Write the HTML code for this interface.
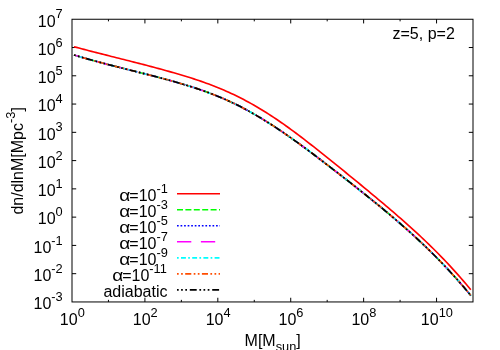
<!DOCTYPE html>
<html><head><meta charset="utf-8"><title>plot</title>
<style>html,body{margin:0;padding:0;background:#fff;}svg{display:block;will-change:transform;}text{font-family:"Liberation Sans",sans-serif;fill:#000;}</style></head><body>
<svg width="500" height="350" viewBox="0 0 500 350">
<rect width="500" height="350" fill="#fff"/>
<path d="M108.45,301.95 v-2.1 M108.45,19.25 v2.1 M144.91,301.95 v-4.2 M144.91,19.25 v4.2 M181.36,301.95 v-2.1 M181.36,19.25 v2.1 M217.82,301.95 v-4.2 M217.82,19.25 v4.2 M254.27,301.95 v-2.1 M254.27,19.25 v2.1 M290.73,301.95 v-4.2 M290.73,19.25 v4.2 M327.18,301.95 v-2.1 M327.18,19.25 v2.1 M363.64,301.95 v-4.2 M363.64,19.25 v4.2 M400.09,301.95 v-2.1 M400.09,19.25 v2.1 M436.55,301.95 v-4.2 M436.55,19.25 v4.2 M72.0,273.68 h4.2 M473.0,273.68 h-4.2 M72.0,245.41 h4.2 M473.0,245.41 h-4.2 M72.0,217.14 h4.2 M473.0,217.14 h-4.2 M72.0,188.87 h4.2 M473.0,188.87 h-4.2 M72.0,160.60 h4.2 M473.0,160.60 h-4.2 M72.0,132.33 h4.2 M473.0,132.33 h-4.2 M72.0,104.06 h4.2 M473.0,104.06 h-4.2 M72.0,75.79 h4.2 M473.0,75.79 h-4.2 M72.0,47.52 h4.2 M473.0,47.52 h-4.2" stroke="#000" stroke-width="1" fill="none"/>
<rect x="72.0" y="19.25" width="401.0" height="282.7" fill="none" stroke="#000" stroke-width="1"/>
<text x="62.70" y="309.30" text-anchor="end" font-size="16.0">10<tspan font-size="12.8" dy="-8.2">-3</tspan></text>
<text x="62.70" y="281.03" text-anchor="end" font-size="16.0">10<tspan font-size="12.8" dy="-8.2">-2</tspan></text>
<text x="62.70" y="252.76" text-anchor="end" font-size="16.0">10<tspan font-size="12.8" dy="-8.2">-1</tspan></text>
<text x="62.70" y="224.49" text-anchor="end" font-size="16.0">10<tspan font-size="12.8" dy="-8.2">0</tspan></text>
<text x="62.70" y="196.22" text-anchor="end" font-size="16.0">10<tspan font-size="12.8" dy="-8.2">1</tspan></text>
<text x="62.70" y="167.95" text-anchor="end" font-size="16.0">10<tspan font-size="12.8" dy="-8.2">2</tspan></text>
<text x="62.70" y="139.68" text-anchor="end" font-size="16.0">10<tspan font-size="12.8" dy="-8.2">3</tspan></text>
<text x="62.70" y="111.41" text-anchor="end" font-size="16.0">10<tspan font-size="12.8" dy="-8.2">4</tspan></text>
<text x="62.70" y="83.14" text-anchor="end" font-size="16.0">10<tspan font-size="12.8" dy="-8.2">5</tspan></text>
<text x="62.70" y="54.87" text-anchor="end" font-size="16.0">10<tspan font-size="12.8" dy="-8.2">6</tspan></text>
<text x="62.70" y="26.60" text-anchor="end" font-size="16.0">10<tspan font-size="12.8" dy="-8.2">7</tspan></text>
<text x="72.30" y="325.00" text-anchor="middle" font-size="16.0">10<tspan font-size="12.8" dy="-8.2">0</tspan></text>
<text x="145.21" y="325.00" text-anchor="middle" font-size="16.0">10<tspan font-size="12.8" dy="-8.2">2</tspan></text>
<text x="218.12" y="325.00" text-anchor="middle" font-size="16.0">10<tspan font-size="12.8" dy="-8.2">4</tspan></text>
<text x="291.03" y="325.00" text-anchor="middle" font-size="16.0">10<tspan font-size="12.8" dy="-8.2">6</tspan></text>
<text x="363.94" y="325.00" text-anchor="middle" font-size="16.0">10<tspan font-size="12.8" dy="-8.2">8</tspan></text>
<text x="436.85" y="325.00" text-anchor="middle" font-size="16.0">10<tspan font-size="12.8" dy="-8.2">10</tspan></text>
<text x="244.6" y="345.5" font-size="16.0">M[M<tspan font-size="12.8" dy="5">sun</tspan><tspan dy="-5">]</tspan></text>
<text transform="translate(22.8,214.6) rotate(-90)" font-size="16.0">dn/dlnM[Mpc<tspan font-size="12.8" dy="-8.2">-3</tspan><tspan dy="8.2">]</tspan></text>
<text x="392.5" y="38.5" font-size="16.0">z=5, p=2</text>
<path d="M74.00,46.72 L76.50,47.39 L78.99,48.07 L81.49,48.73 L83.98,49.39 L86.48,50.05 L88.97,50.70 L91.47,51.35 L93.96,51.99 L96.46,52.63 L98.96,53.27 L101.45,53.91 L103.95,54.54 L106.44,55.17 L108.94,55.80 L111.43,56.43 L113.93,57.05 L116.43,57.68 L118.92,58.31 L121.42,58.94 L123.91,59.56 L126.41,60.19 L128.90,60.82 L131.40,61.45 L133.89,62.09 L136.39,62.72 L138.89,63.36 L141.38,64.01 L143.88,64.65 L146.37,65.30 L148.87,65.95 L151.36,66.61 L153.86,67.28 L156.35,67.94 L158.85,68.62 L161.35,69.30 L163.84,69.99 L166.34,70.68 L168.83,71.38 L171.33,72.09 L173.82,72.80 L176.32,73.53 L178.82,74.26 L181.31,75.00 L183.81,75.75 L186.30,76.52 L188.80,77.29 L191.29,78.08 L193.79,78.89 L196.28,79.71 L198.78,80.55 L201.28,81.40 L203.77,82.28 L206.27,83.17 L208.76,84.08 L211.26,85.02 L213.75,85.98 L216.25,86.96 L218.74,87.97 L221.24,89.00 L223.74,90.06 L226.23,91.14 L228.73,92.26 L231.22,93.41 L233.72,94.58 L236.21,95.79 L238.71,97.02 L241.21,98.29 L243.70,99.58 L246.20,100.91 L248.69,102.26 L251.19,103.64 L253.68,105.06 L256.18,106.50 L258.67,107.97 L261.17,109.46 L263.67,110.99 L266.16,112.54 L268.66,114.12 L271.15,115.73 L273.65,117.37 L276.14,119.04 L278.64,120.73 L281.13,122.45 L283.63,124.19 L286.13,125.96 L288.62,127.76 L291.12,129.57 L293.61,131.41 L296.11,133.26 L298.60,135.13 L301.10,137.02 L303.59,138.93 L306.09,140.85 L308.59,142.79 L311.08,144.73 L313.58,146.69 L316.07,148.66 L318.57,150.63 L321.06,152.62 L323.56,154.61 L326.06,156.61 L328.55,158.61 L331.05,160.62 L333.54,162.63 L336.04,164.64 L338.53,166.66 L341.03,168.68 L343.52,170.71 L346.02,172.74 L348.52,174.77 L351.01,176.80 L353.51,178.85 L356.00,180.89 L358.50,182.94 L360.99,184.99 L363.49,187.05 L365.98,189.11 L368.48,191.18 L370.98,193.26 L373.47,195.34 L375.97,197.42 L378.46,199.51 L380.96,201.61 L383.45,203.71 L385.95,205.82 L388.45,207.94 L390.94,210.07 L393.44,212.21 L395.93,214.36 L398.43,216.52 L400.92,218.70 L403.42,220.89 L405.91,223.10 L408.41,225.32 L410.91,227.57 L413.40,229.83 L415.90,232.12 L418.39,234.42 L420.89,236.75 L423.38,239.11 L425.88,241.48 L428.37,243.89 L430.87,246.32 L433.37,248.78 L435.86,251.26 L438.36,253.78 L440.85,256.33 L443.35,258.92 L445.84,261.53 L448.34,264.18 L450.84,266.87 L453.33,269.59 L455.83,272.36 L458.32,275.16 L460.82,278.00 L463.31,280.88 L465.81,283.81 L468.30,286.78 L470.80,289.79" stroke="#ff0000" stroke-width="1.65" fill="none"/>
<path d="M74.00,54.95 L76.50,55.71 L78.99,56.46 L81.49,57.20 L83.99,57.93 L86.48,58.64 L88.98,59.35 L91.48,60.05 L93.97,60.74 L96.47,61.42 L98.97,62.09 L101.47,62.76 L103.96,63.42 L106.46,64.08 L108.96,64.73 L111.45,65.38 L113.95,66.02 L116.45,66.66 L118.94,67.29 L121.44,67.93 L123.94,68.56 L126.43,69.19 L128.93,69.81 L131.43,70.44 L133.92,71.07 L136.42,71.70 L138.92,72.33 L141.42,72.96 L143.91,73.59 L146.41,74.23 L148.91,74.87 L151.40,75.51 L153.90,76.16 L156.40,76.81 L158.89,77.47 L161.39,78.13 L163.89,78.80 L166.38,79.48 L168.88,80.17 L171.38,80.86 L173.87,81.56 L176.37,82.27 L178.87,82.99 L181.36,83.72 L183.86,84.47 L186.36,85.22 L188.86,85.99 L191.35,86.77 L193.85,87.57 L196.35,88.39 L198.84,89.23 L201.34,90.08 L203.84,90.95 L206.33,91.85 L208.83,92.76 L211.33,93.70 L213.82,94.66 L216.32,95.65 L218.82,96.66 L221.31,97.71 L223.81,98.77 L226.31,99.87 L228.81,101.00 L231.30,102.16 L233.80,103.35 L236.30,104.57 L238.79,105.82 L241.29,107.10 L243.79,108.40 L246.28,109.74 L248.78,111.11 L251.28,112.50 L253.77,113.92 L256.27,115.36 L258.77,116.84 L261.26,118.33 L263.76,119.86 L266.26,121.40 L268.75,122.97 L271.25,124.56 L273.75,126.18 L276.25,127.82 L278.74,129.48 L281.24,131.16 L283.74,132.86 L286.23,134.58 L288.73,136.32 L291.23,138.07 L293.72,139.85 L296.22,141.63 L298.72,143.44 L301.21,145.26 L303.71,147.09 L306.21,148.93 L308.70,150.79 L311.20,152.65 L313.70,154.53 L316.19,156.41 L318.69,158.31 L321.19,160.21 L323.69,162.12 L326.18,164.03 L328.68,165.95 L331.18,167.87 L333.67,169.80 L336.17,171.73 L338.67,173.66 L341.16,175.59 L343.66,177.53 L346.16,179.48 L348.65,181.43 L351.15,183.39 L353.65,185.35 L356.14,187.32 L358.64,189.29 L361.14,191.28 L363.64,193.27 L366.13,195.26 L368.63,197.27 L371.13,199.28 L373.62,201.31 L376.12,203.34 L378.62,205.39 L381.11,207.44 L383.61,209.50 L386.11,211.58 L388.60,213.67 L391.10,215.77 L393.60,217.89 L396.09,220.02 L398.59,222.17 L401.09,224.34 L403.58,226.53 L406.08,228.73 L408.58,230.96 L411.08,233.20 L413.57,235.47 L416.07,237.76 L418.57,240.07 L421.06,242.41 L423.56,244.78 L426.06,247.17 L428.55,249.59 L431.05,252.03 L433.55,254.51 L436.04,257.01 L438.54,259.55 L441.04,262.12 L443.53,264.72 L446.03,267.36 L448.53,270.03 L451.03,272.73 L453.52,275.48 L456.02,278.26 L458.52,281.08 L461.01,283.94 L463.51,286.83 L466.01,289.77 L468.50,292.75 L471.00,295.78" stroke="#00ff00" stroke-width="1.65" stroke-dasharray="6,2.4" fill="none"/>
<path d="M74.00,54.95 L76.50,55.71 L78.99,56.46 L81.49,57.20 L83.99,57.93 L86.48,58.64 L88.98,59.35 L91.48,60.05 L93.97,60.74 L96.47,61.42 L98.97,62.09 L101.47,62.76 L103.96,63.42 L106.46,64.08 L108.96,64.73 L111.45,65.38 L113.95,66.02 L116.45,66.66 L118.94,67.29 L121.44,67.93 L123.94,68.56 L126.43,69.19 L128.93,69.81 L131.43,70.44 L133.92,71.07 L136.42,71.70 L138.92,72.33 L141.42,72.96 L143.91,73.59 L146.41,74.23 L148.91,74.87 L151.40,75.51 L153.90,76.16 L156.40,76.81 L158.89,77.47 L161.39,78.13 L163.89,78.80 L166.38,79.48 L168.88,80.17 L171.38,80.86 L173.87,81.56 L176.37,82.27 L178.87,82.99 L181.36,83.72 L183.86,84.47 L186.36,85.22 L188.86,85.99 L191.35,86.77 L193.85,87.57 L196.35,88.39 L198.84,89.23 L201.34,90.08 L203.84,90.95 L206.33,91.85 L208.83,92.76 L211.33,93.70 L213.82,94.66 L216.32,95.65 L218.82,96.66 L221.31,97.71 L223.81,98.77 L226.31,99.87 L228.81,101.00 L231.30,102.16 L233.80,103.35 L236.30,104.57 L238.79,105.82 L241.29,107.10 L243.79,108.40 L246.28,109.74 L248.78,111.11 L251.28,112.50 L253.77,113.92 L256.27,115.36 L258.77,116.84 L261.26,118.33 L263.76,119.86 L266.26,121.40 L268.75,122.97 L271.25,124.56 L273.75,126.18 L276.25,127.82 L278.74,129.48 L281.24,131.16 L283.74,132.86 L286.23,134.58 L288.73,136.32 L291.23,138.07 L293.72,139.85 L296.22,141.63 L298.72,143.44 L301.21,145.26 L303.71,147.09 L306.21,148.93 L308.70,150.79 L311.20,152.65 L313.70,154.53 L316.19,156.41 L318.69,158.31 L321.19,160.21 L323.69,162.12 L326.18,164.03 L328.68,165.95 L331.18,167.87 L333.67,169.80 L336.17,171.73 L338.67,173.66 L341.16,175.59 L343.66,177.53 L346.16,179.48 L348.65,181.43 L351.15,183.39 L353.65,185.35 L356.14,187.32 L358.64,189.29 L361.14,191.28 L363.64,193.27 L366.13,195.26 L368.63,197.27 L371.13,199.28 L373.62,201.31 L376.12,203.34 L378.62,205.39 L381.11,207.44 L383.61,209.50 L386.11,211.58 L388.60,213.67 L391.10,215.77 L393.60,217.89 L396.09,220.02 L398.59,222.17 L401.09,224.34 L403.58,226.53 L406.08,228.73 L408.58,230.96 L411.08,233.20 L413.57,235.47 L416.07,237.76 L418.57,240.07 L421.06,242.41 L423.56,244.78 L426.06,247.17 L428.55,249.59 L431.05,252.03 L433.55,254.51 L436.04,257.01 L438.54,259.55 L441.04,262.12 L443.53,264.72 L446.03,267.36 L448.53,270.03 L451.03,272.73 L453.52,275.48 L456.02,278.26 L458.52,281.08 L461.01,283.94 L463.51,286.83 L466.01,289.77 L468.50,292.75 L471.00,295.78" stroke="#0000ff" stroke-width="1.65" stroke-dasharray="1.7,1.85" fill="none"/>
<path d="M74.00,54.95 L76.50,55.71 L78.99,56.46 L81.49,57.20 L83.99,57.93 L86.48,58.64 L88.98,59.35 L91.48,60.05 L93.97,60.74 L96.47,61.42 L98.97,62.09 L101.47,62.76 L103.96,63.42 L106.46,64.08 L108.96,64.73 L111.45,65.38 L113.95,66.02 L116.45,66.66 L118.94,67.29 L121.44,67.93 L123.94,68.56 L126.43,69.19 L128.93,69.81 L131.43,70.44 L133.92,71.07 L136.42,71.70 L138.92,72.33 L141.42,72.96 L143.91,73.59 L146.41,74.23 L148.91,74.87 L151.40,75.51 L153.90,76.16 L156.40,76.81 L158.89,77.47 L161.39,78.13 L163.89,78.80 L166.38,79.48 L168.88,80.17 L171.38,80.86 L173.87,81.56 L176.37,82.27 L178.87,82.99 L181.36,83.72 L183.86,84.47 L186.36,85.22 L188.86,85.99 L191.35,86.77 L193.85,87.57 L196.35,88.39 L198.84,89.23 L201.34,90.08 L203.84,90.95 L206.33,91.85 L208.83,92.76 L211.33,93.70 L213.82,94.66 L216.32,95.65 L218.82,96.66 L221.31,97.71 L223.81,98.77 L226.31,99.87 L228.81,101.00 L231.30,102.16 L233.80,103.35 L236.30,104.57 L238.79,105.82 L241.29,107.10 L243.79,108.40 L246.28,109.74 L248.78,111.11 L251.28,112.50 L253.77,113.92 L256.27,115.36 L258.77,116.84 L261.26,118.33 L263.76,119.86 L266.26,121.40 L268.75,122.97 L271.25,124.56 L273.75,126.18 L276.25,127.82 L278.74,129.48 L281.24,131.16 L283.74,132.86 L286.23,134.58 L288.73,136.32 L291.23,138.07 L293.72,139.85 L296.22,141.63 L298.72,143.44 L301.21,145.26 L303.71,147.09 L306.21,148.93 L308.70,150.79 L311.20,152.65 L313.70,154.53 L316.19,156.41 L318.69,158.31 L321.19,160.21 L323.69,162.12 L326.18,164.03 L328.68,165.95 L331.18,167.87 L333.67,169.80 L336.17,171.73 L338.67,173.66 L341.16,175.59 L343.66,177.53 L346.16,179.48 L348.65,181.43 L351.15,183.39 L353.65,185.35 L356.14,187.32 L358.64,189.29 L361.14,191.28 L363.64,193.27 L366.13,195.26 L368.63,197.27 L371.13,199.28 L373.62,201.31 L376.12,203.34 L378.62,205.39 L381.11,207.44 L383.61,209.50 L386.11,211.58 L388.60,213.67 L391.10,215.77 L393.60,217.89 L396.09,220.02 L398.59,222.17 L401.09,224.34 L403.58,226.53 L406.08,228.73 L408.58,230.96 L411.08,233.20 L413.57,235.47 L416.07,237.76 L418.57,240.07 L421.06,242.41 L423.56,244.78 L426.06,247.17 L428.55,249.59 L431.05,252.03 L433.55,254.51 L436.04,257.01 L438.54,259.55 L441.04,262.12 L443.53,264.72 L446.03,267.36 L448.53,270.03 L451.03,272.73 L453.52,275.48 L456.02,278.26 L458.52,281.08 L461.01,283.94 L463.51,286.83 L466.01,289.77 L468.50,292.75 L471.00,295.78" stroke="#ff00ff" stroke-width="1.65" stroke-dasharray="14.3,9.6" fill="none"/>
<path d="M74.00,54.95 L76.50,55.71 L78.99,56.46 L81.49,57.20 L83.99,57.93 L86.48,58.64 L88.98,59.35 L91.48,60.05 L93.97,60.74 L96.47,61.42 L98.97,62.09 L101.47,62.76 L103.96,63.42 L106.46,64.08 L108.96,64.73 L111.45,65.38 L113.95,66.02 L116.45,66.66 L118.94,67.29 L121.44,67.93 L123.94,68.56 L126.43,69.19 L128.93,69.81 L131.43,70.44 L133.92,71.07 L136.42,71.70 L138.92,72.33 L141.42,72.96 L143.91,73.59 L146.41,74.23 L148.91,74.87 L151.40,75.51 L153.90,76.16 L156.40,76.81 L158.89,77.47 L161.39,78.13 L163.89,78.80 L166.38,79.48 L168.88,80.17 L171.38,80.86 L173.87,81.56 L176.37,82.27 L178.87,82.99 L181.36,83.72 L183.86,84.47 L186.36,85.22 L188.86,85.99 L191.35,86.77 L193.85,87.57 L196.35,88.39 L198.84,89.23 L201.34,90.08 L203.84,90.95 L206.33,91.85 L208.83,92.76 L211.33,93.70 L213.82,94.66 L216.32,95.65 L218.82,96.66 L221.31,97.71 L223.81,98.77 L226.31,99.87 L228.81,101.00 L231.30,102.16 L233.80,103.35 L236.30,104.57 L238.79,105.82 L241.29,107.10 L243.79,108.40 L246.28,109.74 L248.78,111.11 L251.28,112.50 L253.77,113.92 L256.27,115.36 L258.77,116.84 L261.26,118.33 L263.76,119.86 L266.26,121.40 L268.75,122.97 L271.25,124.56 L273.75,126.18 L276.25,127.82 L278.74,129.48 L281.24,131.16 L283.74,132.86 L286.23,134.58 L288.73,136.32 L291.23,138.07 L293.72,139.85 L296.22,141.63 L298.72,143.44 L301.21,145.26 L303.71,147.09 L306.21,148.93 L308.70,150.79 L311.20,152.65 L313.70,154.53 L316.19,156.41 L318.69,158.31 L321.19,160.21 L323.69,162.12 L326.18,164.03 L328.68,165.95 L331.18,167.87 L333.67,169.80 L336.17,171.73 L338.67,173.66 L341.16,175.59 L343.66,177.53 L346.16,179.48 L348.65,181.43 L351.15,183.39 L353.65,185.35 L356.14,187.32 L358.64,189.29 L361.14,191.28 L363.64,193.27 L366.13,195.26 L368.63,197.27 L371.13,199.28 L373.62,201.31 L376.12,203.34 L378.62,205.39 L381.11,207.44 L383.61,209.50 L386.11,211.58 L388.60,213.67 L391.10,215.77 L393.60,217.89 L396.09,220.02 L398.59,222.17 L401.09,224.34 L403.58,226.53 L406.08,228.73 L408.58,230.96 L411.08,233.20 L413.57,235.47 L416.07,237.76 L418.57,240.07 L421.06,242.41 L423.56,244.78 L426.06,247.17 L428.55,249.59 L431.05,252.03 L433.55,254.51 L436.04,257.01 L438.54,259.55 L441.04,262.12 L443.53,264.72 L446.03,267.36 L448.53,270.03 L451.03,272.73 L453.52,275.48 L456.02,278.26 L458.52,281.08 L461.01,283.94 L463.51,286.83 L466.01,289.77 L468.50,292.75 L471.00,295.78" stroke="#00ffff" stroke-width="1.65" stroke-dasharray="1.7,2.3,4.9,2.3" fill="none"/>
<path d="M74.00,54.95 L76.50,55.71 L78.99,56.46 L81.49,57.20 L83.99,57.93 L86.48,58.64 L88.98,59.35 L91.48,60.05 L93.97,60.74 L96.47,61.42 L98.97,62.09 L101.47,62.76 L103.96,63.42 L106.46,64.08 L108.96,64.73 L111.45,65.38 L113.95,66.02 L116.45,66.66 L118.94,67.29 L121.44,67.93 L123.94,68.56 L126.43,69.19 L128.93,69.81 L131.43,70.44 L133.92,71.07 L136.42,71.70 L138.92,72.33 L141.42,72.96 L143.91,73.59 L146.41,74.23 L148.91,74.87 L151.40,75.51 L153.90,76.16 L156.40,76.81 L158.89,77.47 L161.39,78.13 L163.89,78.80 L166.38,79.48 L168.88,80.17 L171.38,80.86 L173.87,81.56 L176.37,82.27 L178.87,82.99 L181.36,83.72 L183.86,84.47 L186.36,85.22 L188.86,85.99 L191.35,86.77 L193.85,87.57 L196.35,88.39 L198.84,89.23 L201.34,90.08 L203.84,90.95 L206.33,91.85 L208.83,92.76 L211.33,93.70 L213.82,94.66 L216.32,95.65 L218.82,96.66 L221.31,97.71 L223.81,98.77 L226.31,99.87 L228.81,101.00 L231.30,102.16 L233.80,103.35 L236.30,104.57 L238.79,105.82 L241.29,107.10 L243.79,108.40 L246.28,109.74 L248.78,111.11 L251.28,112.50 L253.77,113.92 L256.27,115.36 L258.77,116.84 L261.26,118.33 L263.76,119.86 L266.26,121.40 L268.75,122.97 L271.25,124.56 L273.75,126.18 L276.25,127.82 L278.74,129.48 L281.24,131.16 L283.74,132.86 L286.23,134.58 L288.73,136.32 L291.23,138.07 L293.72,139.85 L296.22,141.63 L298.72,143.44 L301.21,145.26 L303.71,147.09 L306.21,148.93 L308.70,150.79 L311.20,152.65 L313.70,154.53 L316.19,156.41 L318.69,158.31 L321.19,160.21 L323.69,162.12 L326.18,164.03 L328.68,165.95 L331.18,167.87 L333.67,169.80 L336.17,171.73 L338.67,173.66 L341.16,175.59 L343.66,177.53 L346.16,179.48 L348.65,181.43 L351.15,183.39 L353.65,185.35 L356.14,187.32 L358.64,189.29 L361.14,191.28 L363.64,193.27 L366.13,195.26 L368.63,197.27 L371.13,199.28 L373.62,201.31 L376.12,203.34 L378.62,205.39 L381.11,207.44 L383.61,209.50 L386.11,211.58 L388.60,213.67 L391.10,215.77 L393.60,217.89 L396.09,220.02 L398.59,222.17 L401.09,224.34 L403.58,226.53 L406.08,228.73 L408.58,230.96 L411.08,233.20 L413.57,235.47 L416.07,237.76 L418.57,240.07 L421.06,242.41 L423.56,244.78 L426.06,247.17 L428.55,249.59 L431.05,252.03 L433.55,254.51 L436.04,257.01 L438.54,259.55 L441.04,262.12 L443.53,264.72 L446.03,267.36 L448.53,270.03 L451.03,272.73 L453.52,275.48 L456.02,278.26 L458.52,281.08 L461.01,283.94 L463.51,286.83 L466.01,289.77 L468.50,292.75 L471.00,295.78" stroke="#ff4d00" stroke-width="1.65" stroke-dasharray="1.7,2.4,1.7,2.4,6.1,2.4" fill="none"/>
<path d="M74.00,54.95 L76.50,55.71 L78.99,56.46 L81.49,57.20 L83.99,57.93 L86.48,58.64 L88.98,59.35 L91.48,60.05 L93.97,60.74 L96.47,61.42 L98.97,62.09 L101.47,62.76 L103.96,63.42 L106.46,64.08 L108.96,64.73 L111.45,65.38 L113.95,66.02 L116.45,66.66 L118.94,67.29 L121.44,67.93 L123.94,68.56 L126.43,69.19 L128.93,69.81 L131.43,70.44 L133.92,71.07 L136.42,71.70 L138.92,72.33 L141.42,72.96 L143.91,73.59 L146.41,74.23 L148.91,74.87 L151.40,75.51 L153.90,76.16 L156.40,76.81 L158.89,77.47 L161.39,78.13 L163.89,78.80 L166.38,79.48 L168.88,80.17 L171.38,80.86 L173.87,81.56 L176.37,82.27 L178.87,82.99 L181.36,83.72 L183.86,84.47 L186.36,85.22 L188.86,85.99 L191.35,86.77 L193.85,87.57 L196.35,88.39 L198.84,89.23 L201.34,90.08 L203.84,90.95 L206.33,91.85 L208.83,92.76 L211.33,93.70 L213.82,94.66 L216.32,95.65 L218.82,96.66 L221.31,97.71 L223.81,98.77 L226.31,99.87 L228.81,101.00 L231.30,102.16 L233.80,103.35 L236.30,104.57 L238.79,105.82 L241.29,107.10 L243.79,108.40 L246.28,109.74 L248.78,111.11 L251.28,112.50 L253.77,113.92 L256.27,115.36 L258.77,116.84 L261.26,118.33 L263.76,119.86 L266.26,121.40 L268.75,122.97 L271.25,124.56 L273.75,126.18 L276.25,127.82 L278.74,129.48 L281.24,131.16 L283.74,132.86 L286.23,134.58 L288.73,136.32 L291.23,138.07 L293.72,139.85 L296.22,141.63 L298.72,143.44 L301.21,145.26 L303.71,147.09 L306.21,148.93 L308.70,150.79 L311.20,152.65 L313.70,154.53 L316.19,156.41 L318.69,158.31 L321.19,160.21 L323.69,162.12 L326.18,164.03 L328.68,165.95 L331.18,167.87 L333.67,169.80 L336.17,171.73 L338.67,173.66 L341.16,175.59 L343.66,177.53 L346.16,179.48 L348.65,181.43 L351.15,183.39 L353.65,185.35 L356.14,187.32 L358.64,189.29 L361.14,191.28 L363.64,193.27 L366.13,195.26 L368.63,197.27 L371.13,199.28 L373.62,201.31 L376.12,203.34 L378.62,205.39 L381.11,207.44 L383.61,209.50 L386.11,211.58 L388.60,213.67 L391.10,215.77 L393.60,217.89 L396.09,220.02 L398.59,222.17 L401.09,224.34 L403.58,226.53 L406.08,228.73 L408.58,230.96 L411.08,233.20 L413.57,235.47 L416.07,237.76 L418.57,240.07 L421.06,242.41 L423.56,244.78 L426.06,247.17 L428.55,249.59 L431.05,252.03 L433.55,254.51 L436.04,257.01 L438.54,259.55 L441.04,262.12 L443.53,264.72 L446.03,267.36 L448.53,270.03 L451.03,272.73 L453.52,275.48 L456.02,278.26 L458.52,281.08 L461.01,283.94 L463.51,286.83 L466.01,289.77 L468.50,292.75 L471.00,295.78" stroke="#000000" stroke-width="1.65" stroke-dasharray="1.7,2.4,1.7,2.5,1.7,2.8,6.9,2.7" fill="none"/>
<path d="M177,193.70 H220" stroke="#ff0000" stroke-width="1.65" fill="none"/>
<text x="129.30" y="200.50" font-size="16.0">=10<tspan font-size="12.8" dy="-7.5">-1</tspan></text>
<text transform="translate(119.30,200.50) scale(1.195,1)" font-size="16.0">α</text>
<path d="M177,209.73 H220" stroke-dasharray="6,2.4" stroke="#00ff00" stroke-width="1.65" fill="none"/>
<text x="129.30" y="216.53" font-size="16.0">=10<tspan font-size="12.8" dy="-7.5">-3</tspan></text>
<text transform="translate(119.30,216.53) scale(1.195,1)" font-size="16.0">α</text>
<path d="M177,225.76 H220" stroke-dasharray="1.7,1.85" stroke="#0000ff" stroke-width="1.65" fill="none"/>
<text x="129.30" y="232.56" font-size="16.0">=10<tspan font-size="12.8" dy="-7.5">-5</tspan></text>
<text transform="translate(119.30,232.56) scale(1.195,1)" font-size="16.0">α</text>
<path d="M177,241.79 H220" stroke-dasharray="14.3,9.6" stroke="#ff00ff" stroke-width="1.65" fill="none"/>
<text x="129.30" y="248.59" font-size="16.0">=10<tspan font-size="12.8" dy="-7.5">-7</tspan></text>
<text transform="translate(119.30,248.59) scale(1.195,1)" font-size="16.0">α</text>
<path d="M177,257.82 H220" stroke-dasharray="1.7,2.3,4.9,2.3" stroke="#00ffff" stroke-width="1.65" fill="none"/>
<text x="129.30" y="264.62" font-size="16.0">=10<tspan font-size="12.8" dy="-7.5">-9</tspan></text>
<text transform="translate(119.30,264.62) scale(1.195,1)" font-size="16.0">α</text>
<path d="M177,273.85 H220" stroke-dasharray="1.7,2.4,1.7,2.4,6.1,2.4" stroke="#ff4d00" stroke-width="1.65" fill="none"/>
<text x="122.18" y="280.65" font-size="16.0">=10<tspan font-size="12.8" dy="-7.5">-11</tspan></text>
<text transform="translate(112.18,280.65) scale(1.195,1)" font-size="16.0">α</text>
<path d="M177,289.88 H220" stroke-dasharray="1.7,2.4,1.7,2.5,1.7,2.8,6.9,2.7" stroke="#000000" stroke-width="1.65" fill="none"/>
<text x="167.5" y="296.58" text-anchor="end" font-size="16.0">adiabatic</text>
</svg></body></html>
